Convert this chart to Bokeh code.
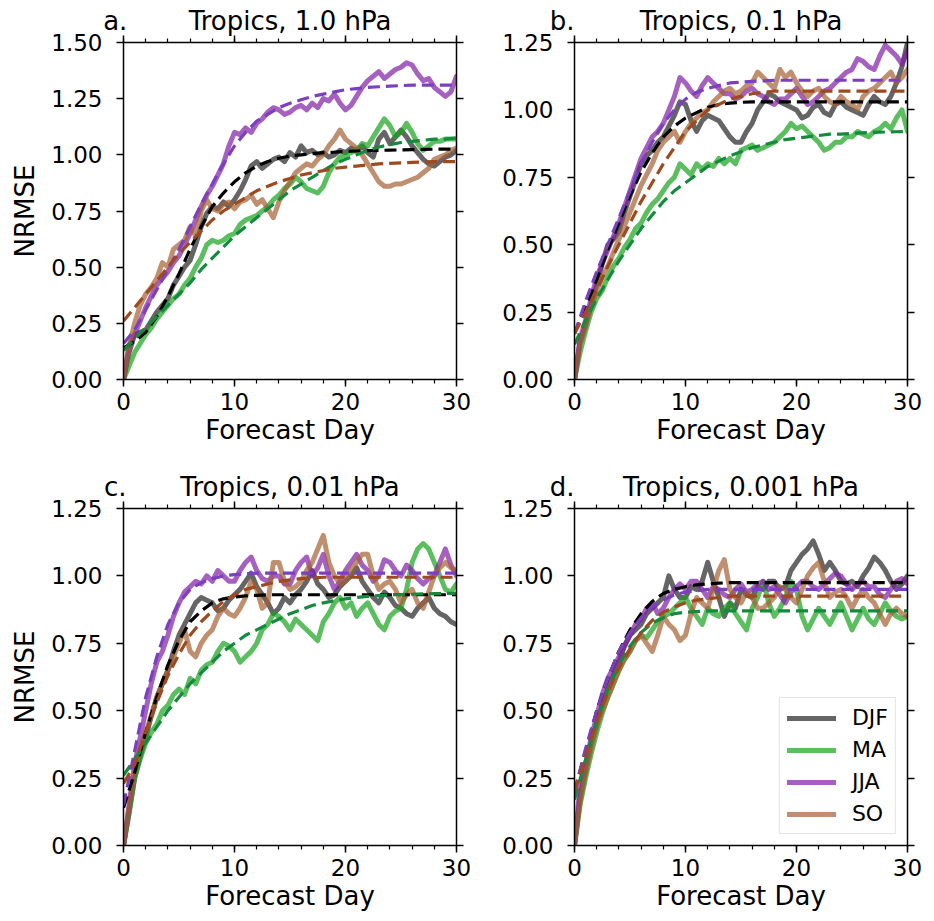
import math
from bokeh.plotting import figure
from bokeh.layouts import column, row
from bokeh.models import (LinearAxis, Range1d, Legend, LegendItem, FixedTicker,
                          SingleIntervalTicker, PrintfTickFormatter, CustomLabelingPolicy)
from bokeh.embed import file_html
from bokeh.resources import INLINE

FONT = "DejaVu Sans"

# ---------------- data ----------------
days = [i * 0.5 for i in range(61)]      # forecast day, half-day steps
fit_days = list(range(31))               # forecast day for fitted curves
seasons = ["DJF", "MA", "JJA", "SO"]
titles = ["Tropics, 1.0 hPa", "Tropics, 0.1 hPa", "Tropics, 0.01 hPa", "Tropics, 0.001 hPa"]
letters = ["a.", "b.", "c.", "d."]
y_max = [1.5, 1.25, 1.25, 1.25]

# panel a: 1.0 hPa
a_djf = [0, 0.12, 0.20, 0.21, 0.22, 0.26, 0.30, 0.33, 0.36, 0.42, 0.46, 0.50, 0.53, 0.60, 0.68, 0.74,
         0.77, 0.76, 0.79, 0.77, 0.80, 0.84, 0.89, 0.95, 0.97, 0.94, 0.96, 0.98, 0.99, 0.97, 1.01,
         0.99, 1.04, 1.01, 1.02, 1.00, 1.01, 0.99, 1.00, 1.02, 1.01, 1.03, 1.02, 1.04, 1.01, 0.99,
         1.07, 1.10, 1.05, 1.08, 1.11, 1.08, 1.04, 1.01, 0.98, 0.96, 0.95, 0.97, 0.99, 1.00, 1.02]
a_ma = [0, 0.06, 0.12, 0.16, 0.20, 0.23, 0.27, 0.30, 0.33, 0.36, 0.38, 0.42, 0.45, 0.50, 0.54, 0.60,
        0.62, 0.61, 0.62, 0.64, 0.65, 0.69, 0.71, 0.72, 0.73, 0.75, 0.77, 0.80, 0.82, 0.85, 0.87,
        0.90, 0.88, 0.85, 0.84, 0.83, 0.86, 0.92, 0.96, 0.99, 1.00, 1.01, 1.02, 1.05, 1.04, 1.08,
        1.12, 1.16, 1.13, 1.08, 1.10, 1.14, 1.10, 1.05, 1.02, 1.04, 1.06, 1.06, 1.07, 1.07, 1.07]
a_jja = [0, 0.15, 0.20, 0.26, 0.32, 0.37, 0.42, 0.45, 0.48, 0.52, 0.55, 0.60, 0.65, 0.71, 0.77, 0.82,
         0.86, 0.91, 0.96, 1.04, 1.10, 1.09, 1.12, 1.10, 1.14, 1.16, 1.19, 1.21, 1.20, 1.18, 1.19,
         1.21, 1.22, 1.20, 1.23, 1.21, 1.25, 1.24, 1.27, 1.23, 1.20, 1.22, 1.26, 1.30, 1.33, 1.35,
         1.37, 1.34, 1.36, 1.38, 1.39, 1.41, 1.40, 1.36, 1.33, 1.34, 1.30, 1.28, 1.26, 1.28, 1.35]
a_so = [0, 0.15, 0.25, 0.33, 0.38, 0.41, 0.45, 0.52, 0.50, 0.58, 0.60, 0.62, 0.68, 0.64, 0.75, 0.80,
        0.76, 0.75, 0.78, 0.79, 0.76, 0.79, 0.80, 0.82, 0.78, 0.80, 0.76, 0.72, 0.79, 0.84, 0.88,
        0.92, 0.94, 0.96, 0.95, 0.98, 1.00, 1.04, 1.07, 1.11, 1.07, 1.05, 1.03, 1.00, 0.96, 0.92,
        0.88, 0.86, 0.86, 0.87, 0.87, 0.88, 0.89, 0.90, 0.92, 0.94, 0.98, 0.99, 1.00, 1.02, 1.03]
a_djf_fit = [0.14, 0.17, 0.21, 0.28, 0.37, 0.47, 0.58, 0.68, 0.77, 0.83, 0.88, 0.92, 0.95, 0.97, 0.985, 0.995,
             1.00, 1.005, 1.01, 1.012, 1.015, 1.017, 1.019, 1.02, 1.021, 1.022, 1.023, 1.024, 1.025, 1.025, 1.025]
a_ma_fit = [0.13, 0.18, 0.23, 0.28, 0.33, 0.38, 0.43, 0.49, 0.54, 0.59, 0.64, 0.68, 0.72, 0.76, 0.80, 0.84,
            0.87, 0.90, 0.93, 0.96, 0.98, 1.00, 1.02, 1.035, 1.045, 1.055, 1.06, 1.065, 1.07, 1.07, 1.075]
a_jja_fit = [0.16, 0.22, 0.31, 0.40, 0.49, 0.58, 0.68, 0.78, 0.87, 0.96, 1.04, 1.10, 1.15, 1.18, 1.21, 1.23,
             1.245, 1.26, 1.27, 1.28, 1.29, 1.295, 1.30, 1.303, 1.306, 1.308, 1.31, 1.31, 1.31, 1.31, 1.31]
a_so_fit = [0.26, 0.32, 0.38, 0.44, 0.50, 0.56, 0.61, 0.66, 0.71, 0.75, 0.78, 0.81, 0.84, 0.86, 0.88, 0.895,
            0.91, 0.92, 0.93, 0.94, 0.945, 0.95, 0.955, 0.96, 0.962, 0.964, 0.966, 0.968, 0.97, 0.97, 0.97]

# panel b: 0.1 hPa
b_djf = [0, 0.14, 0.20, 0.28, 0.35, 0.43, 0.50, 0.52, 0.55, 0.62, 0.68, 0.74, 0.80, 0.83, 0.85, 0.88,
         0.90, 0.94, 0.98, 1.03, 1.02, 0.96, 0.92, 0.96, 0.98, 0.97, 0.96, 0.93, 0.90, 0.88, 0.88,
         0.92, 0.95, 1.00, 1.03, 1.06, 1.05, 1.03, 1.02, 1.01, 1.00, 0.97, 0.98, 1.01, 1.02, 0.99,
         0.98, 1.02, 1.03, 1.01, 1.00, 0.99, 0.98, 1.02, 1.05, 1.03, 1.02, 1.05, 1.10, 1.16, 1.25]
b_ma = [0, 0.10, 0.18, 0.25, 0.30, 0.33, 0.38, 0.42, 0.45, 0.49, 0.52, 0.56, 0.58, 0.62, 0.65, 0.67,
        0.70, 0.73, 0.75, 0.80, 0.78, 0.76, 0.80, 0.78, 0.80, 0.79, 0.82, 0.80, 0.82, 0.80, 0.85,
        0.86, 0.87, 0.85, 0.86, 0.87, 0.88, 0.90, 0.92, 0.95, 0.93, 0.94, 0.92, 0.90, 0.88, 0.85,
        0.86, 0.88, 0.88, 0.90, 0.90, 0.92, 0.91, 0.90, 0.92, 0.93, 0.95, 0.93, 0.97, 1.00, 0.92]
b_jja = [0, 0.15, 0.22, 0.30, 0.38, 0.43, 0.48, 0.53, 0.58, 0.64, 0.70, 0.76, 0.82, 0.86, 0.90, 0.92,
         0.95, 1.00, 1.05, 1.12, 1.10, 1.07, 1.05, 1.09, 1.12, 1.10, 1.08, 1.06, 1.06, 1.04, 1.05,
         1.07, 1.08, 1.06, 1.05, 1.03, 1.02, 1.04, 1.04, 1.06, 1.08, 1.05, 1.02, 1.03, 1.05, 1.07,
         1.08, 1.10, 1.12, 1.14, 1.15, 1.19, 1.18, 1.16, 1.15, 1.20, 1.24, 1.22, 1.20, 1.17, 1.22]
b_so = [0, 0.13, 0.20, 0.27, 0.33, 0.38, 0.42, 0.47, 0.52, 0.57, 0.62, 0.67, 0.72, 0.76, 0.80, 0.85,
        0.88, 0.90, 0.92, 0.88, 0.92, 0.95, 0.97, 0.99, 1.00, 1.03, 1.05, 1.07, 1.08, 1.06, 1.07,
        1.09, 1.10, 1.14, 1.12, 1.10, 1.08, 1.15, 1.12, 1.14, 1.10, 1.07, 1.05, 1.07, 1.08, 1.05,
        1.03, 1.02, 1.05, 1.03, 1.02, 1.00, 1.05, 1.07, 1.08, 1.10, 1.12, 1.14, 1.10, 1.12, 1.15]
b_djf_fit = [0.17, 0.27, 0.37, 0.48, 0.58, 0.68, 0.77, 0.84, 0.90, 0.94, 0.97, 0.99, 1.01, 1.02, 1.025, 1.028,
             1.03, 1.03, 1.03, 1.03, 1.03, 1.03, 1.03, 1.03, 1.03, 1.03, 1.03, 1.03, 1.03, 1.03, 1.03]
b_ma_fit = [0.13, 0.22, 0.30, 0.37, 0.44, 0.50, 0.56, 0.61, 0.66, 0.70, 0.73, 0.76, 0.79, 0.81, 0.83, 0.845,
            0.86, 0.87, 0.88, 0.89, 0.895, 0.90, 0.905, 0.91, 0.91, 0.913, 0.915, 0.917, 0.918, 0.919, 0.92]
b_jja_fit = [0.17, 0.29, 0.40, 0.50, 0.60, 0.70, 0.80, 0.88, 0.95, 1.00, 1.04, 1.065, 1.08, 1.09, 1.10, 1.103,
             1.106, 1.108, 1.11, 1.11, 1.11, 1.11, 1.11, 1.11, 1.11, 1.11, 1.11, 1.11, 1.11, 1.11, 1.11]
b_so_fit = [0.17, 0.25, 0.33, 0.42, 0.50, 0.58, 0.66, 0.73, 0.80, 0.86, 0.92, 0.96, 1.00, 1.02, 1.04, 1.05,
            1.06, 1.065, 1.07, 1.07, 1.07, 1.07, 1.07, 1.07, 1.07, 1.07, 1.07, 1.07, 1.07, 1.07, 1.07]

# panel c: 0.01 hPa
c_djf = [0, 0.12, 0.25, 0.33, 0.40, 0.48, 0.55, 0.60, 0.65, 0.72, 0.78, 0.82, 0.86, 0.90, 0.92, 0.91,
         0.90, 0.87, 0.88, 0.91, 0.93, 0.95, 0.98, 1.01, 0.96, 0.93, 0.90, 0.86, 0.88, 0.92, 0.90,
         0.93, 0.95, 0.98, 1.02, 0.97, 0.95, 0.92, 0.93, 0.96, 0.98, 1.00, 1.03, 0.98, 0.95, 0.92,
         0.90, 0.94, 0.92, 0.89, 0.88, 0.86, 0.85, 0.88, 0.90, 0.92, 0.88, 0.86, 0.85, 0.83, 0.82]
c_ma = [0, 0.12, 0.25, 0.32, 0.38, 0.42, 0.45, 0.50, 0.52, 0.56, 0.58, 0.56, 0.62, 0.60, 0.65, 0.67,
        0.68, 0.72, 0.75, 0.74, 0.72, 0.68, 0.70, 0.72, 0.75, 0.80, 0.82, 0.86, 0.85, 0.83, 0.80,
        0.84, 0.82, 0.80, 0.78, 0.76, 0.83, 0.86, 0.90, 0.92, 0.88, 0.90, 0.85, 0.88, 0.90, 0.86,
        0.82, 0.80, 0.85, 0.87, 0.88, 0.95, 1.05, 1.10, 1.12, 1.10, 1.05, 1.00, 0.95, 0.94, 0.97]
c_jja = [0, 0.15, 0.30, 0.40, 0.50, 0.60, 0.68, 0.72, 0.78, 0.85, 0.90, 0.94, 0.96, 0.98, 0.97, 1.00,
         0.98, 1.02, 1.00, 0.98, 0.98, 1.02, 1.05, 1.07, 1.02, 0.99, 0.98, 1.00, 1.00, 0.97, 0.97,
         1.02, 1.05, 1.07, 1.00, 1.03, 1.08, 1.00, 0.95, 0.98, 1.02, 1.05, 1.08, 1.04, 1.02, 0.98,
         1.00, 1.06, 1.05, 1.02, 1.00, 1.04, 1.02, 0.99, 0.97, 0.99, 1.00, 1.05, 1.10, 1.04, 1.00]
c_so = [0, 0.14, 0.28, 0.36, 0.42, 0.48, 0.55, 0.60, 0.65, 0.70, 0.75, 0.80, 0.72, 0.70, 0.75, 0.78,
        0.80, 0.85, 0.88, 0.86, 0.85, 0.88, 0.92, 0.98, 0.95, 0.88, 0.90, 1.05, 1.05, 0.98, 0.95,
        0.96, 0.98, 1.02, 1.05, 1.10, 1.15, 1.05, 1.00, 0.97, 0.98, 1.02, 1.05, 1.08, 1.08, 1.00,
        0.95, 0.97, 0.98, 0.95, 0.90, 0.93, 0.95, 0.90, 0.88, 0.94, 1.00, 1.03, 1.05, 1.03, 1.02]
c_djf_fit = [0.14, 0.27, 0.42, 0.55, 0.67, 0.76, 0.83, 0.87, 0.90, 0.915, 0.922, 0.926, 0.928, 0.93, 0.93, 0.93,
             0.93, 0.93, 0.93, 0.93, 0.93, 0.93, 0.93, 0.93, 0.93, 0.93, 0.93, 0.93, 0.93, 0.93, 0.93]
c_ma_fit = [0.26, 0.32, 0.38, 0.44, 0.50, 0.55, 0.60, 0.64, 0.68, 0.72, 0.75, 0.78, 0.80, 0.82, 0.84, 0.86,
            0.875, 0.89, 0.90, 0.908, 0.915, 0.92, 0.924, 0.927, 0.93, 0.931, 0.932, 0.933, 0.934, 0.935, 0.935]
c_jja_fit = [0.15, 0.35, 0.55, 0.70, 0.82, 0.90, 0.95, 0.975, 0.99, 1.00, 1.005, 1.008, 1.01, 1.01, 1.01, 1.01,
             1.01, 1.01, 1.01, 1.01, 1.01, 1.01, 1.01, 1.01, 1.01, 1.01, 1.01, 1.01, 1.01, 1.01, 1.01]
c_so_fit = [0.23, 0.30, 0.42, 0.53, 0.63, 0.71, 0.78, 0.83, 0.87, 0.905, 0.93, 0.95, 0.96, 0.97, 0.98, 0.985,
            0.99, 0.992, 0.995, 0.995, 0.995, 0.995, 0.995, 0.995, 0.995, 0.995, 0.995, 0.995, 0.995, 0.995, 0.995]

# panel d: 0.001 hPa
d_djf = [0, 0.18, 0.28, 0.38, 0.45, 0.52, 0.58, 0.63, 0.68, 0.74, 0.78, 0.80, 0.82, 0.86, 0.88, 0.90,
         0.92, 1.00, 0.95, 0.92, 0.92, 0.96, 0.95, 0.98, 1.05, 0.98, 0.92, 0.85, 0.90, 0.88, 0.95,
         0.93, 0.92, 0.96, 0.95, 0.98, 0.98, 0.95, 0.96, 1.02, 1.05, 1.08, 1.10, 1.13, 1.08, 1.02,
         1.05, 1.02, 0.98, 0.97, 0.98, 0.96, 1.00, 1.03, 1.07, 1.05, 1.02, 0.98, 0.95, 0.97, 1.00]
d_ma = [0, 0.15, 0.25, 0.34, 0.42, 0.49, 0.55, 0.60, 0.65, 0.69, 0.72, 0.76, 0.78, 0.77, 0.80, 0.83,
        0.85, 0.86, 0.88, 0.90, 0.92, 0.88, 0.85, 0.82, 0.88, 0.86, 0.85, 0.88, 0.90, 0.86, 0.83,
        0.80, 0.88, 0.92, 0.98, 0.90, 0.85, 0.88, 0.92, 0.98, 0.95, 0.85, 0.80, 0.84, 0.88, 0.85,
        0.82, 0.86, 0.90, 0.85, 0.80, 0.84, 0.88, 0.84, 0.82, 0.86, 0.90, 0.87, 0.85, 0.84, 0.85]
d_jja = [0, 0.22, 0.30, 0.40, 0.48, 0.56, 0.62, 0.66, 0.70, 0.74, 0.78, 0.82, 0.84, 0.88, 0.90, 0.86,
         0.88, 0.92, 0.95, 0.97, 0.95, 0.98, 0.98, 0.95, 0.92, 0.96, 0.95, 0.93, 0.92, 0.95, 0.97,
         0.94, 0.95, 0.97, 0.98, 0.95, 0.96, 0.93, 0.90, 0.94, 0.96, 0.98, 0.98, 0.96, 0.95, 0.97,
         0.99, 1.01, 1.00, 0.97, 0.95, 0.97, 0.98, 0.96, 0.96, 0.93, 0.92, 0.95, 0.98, 0.99, 0.97]
d_so = [0, 0.16, 0.27, 0.36, 0.44, 0.50, 0.55, 0.60, 0.65, 0.69, 0.72, 0.76, 0.78, 0.75, 0.72, 0.78,
        0.85, 0.82, 0.80, 0.76, 0.78, 0.86, 0.92, 0.90, 0.88, 0.95, 1.02, 1.06, 0.95, 0.92, 0.90,
        0.94, 0.92, 0.88, 0.88, 0.90, 0.92, 0.96, 0.95, 0.92, 0.90, 0.95, 1.00, 1.03, 1.05, 0.98,
        0.92, 0.94, 0.95, 0.92, 0.88, 0.92, 0.95, 0.92, 0.90, 0.86, 0.82, 0.86, 0.88, 0.86, 0.85]
d_djf_fit = [0.20, 0.35, 0.50, 0.62, 0.72, 0.80, 0.86, 0.905, 0.935, 0.95, 0.96, 0.967, 0.97, 0.973, 0.975, 0.975,
             0.975, 0.975, 0.975, 0.975, 0.975, 0.975, 0.975, 0.975, 0.975, 0.975, 0.975, 0.975, 0.975, 0.975, 0.975]
d_ma_fit = [0.17, 0.32, 0.46, 0.58, 0.67, 0.74, 0.79, 0.825, 0.845, 0.86, 0.865, 0.868, 0.87, 0.87, 0.87, 0.87,
            0.87, 0.87, 0.87, 0.87, 0.87, 0.87, 0.87, 0.87, 0.87, 0.87, 0.87, 0.87, 0.87, 0.87, 0.87]
d_jja_fit = [0.20, 0.36, 0.50, 0.62, 0.72, 0.79, 0.845, 0.885, 0.91, 0.93, 0.94, 0.945, 0.95, 0.95, 0.95, 0.95,
             0.95, 0.95, 0.95, 0.95, 0.95, 0.95, 0.95, 0.95, 0.95, 0.95, 0.95, 0.95, 0.95, 0.95, 0.95]
d_so_fit = [0.20, 0.33, 0.46, 0.57, 0.66, 0.73, 0.79, 0.835, 0.865, 0.885, 0.90, 0.91, 0.915, 0.92, 0.925, 0.925,
            0.925, 0.925, 0.925, 0.925, 0.925, 0.925, 0.925, 0.925, 0.925, 0.925, 0.925, 0.925, 0.925, 0.925, 0.925]

solid_data = [[a_djf, a_ma, a_jja, a_so], [b_djf, b_ma, b_jja, b_so],
              [c_djf, c_ma, c_jja, c_so], [d_djf, d_ma, d_jja, d_so]]
fit_data = [[a_djf_fit, a_ma_fit, a_jja_fit, a_so_fit], [b_djf_fit, b_ma_fit, b_jja_fit, b_so_fit],
            [c_djf_fit, c_ma_fit, c_jja_fit, c_so_fit], [d_djf_fit, d_ma_fit, d_jja_fit, d_so_fit]]

# ---------------- style ----------------
solid_colors = ["#242424", "#16a41c", "#801ca5", "#a56033"]
fit_colors = ["#000000", "#138a3c", "#7b3fbf", "#9e4a1f"]

# (width, height, left, right, top, bottom)
geoms = [(471, 463, 123, 15, 42, 84), (460, 463, 103, 24, 42, 84),
         (471, 457, 123, 15, 45, 75), (460, 457, 103, 24, 45, 75)]
letter_pad = [2, 3, 2, 3]        # non-breaking spaces that push the letter left of the frame
TITLE_POS = 15.0

NO_LABELS = CustomLabelingPolicy(code="return new Set()")


def style_axis(ax, show_labels, minor):
    ax.axis_line_width = 1.5
    ax.axis_line_color = "black"
    ax.major_tick_in = 0
    ax.major_tick_out = 7
    ax.major_tick_line_width = 1.5
    ax.major_tick_line_color = "black"
    ax.minor_tick_in = 0
    ax.minor_tick_out = 4 if minor else 0
    ax.minor_tick_line_width = 1.2
    ax.minor_tick_line_color = "black" if minor else None
    ax.major_label_text_font = FONT
    ax.major_label_text_color = "black"
    if show_labels:
        ax.major_label_text_font_size = "23px"
    else:
        ax.major_label_text_font_size = "0px"
        ax.major_label_standoff = 0
        ax.major_label_policy = NO_LABELS


figs = []
for k in range(4):
    W, H, bl, br, bt, bb = geoms[k]
    ymax = y_max[k]
    p = figure(width=W, height=H, x_range=Range1d(0, 30), y_range=Range1d(0, ymax),
               output_backend="svg", toolbar_location=None,
               min_border_left=bl, min_border_right=br, min_border_top=bt, min_border_bottom=bb,
               outline_line_color=None, background_fill_color="white", border_fill_color="white")
    p.xgrid.visible = False
    p.ygrid.visible = False

    xa = p.xaxis[0]
    xa.ticker = SingleIntervalTicker(interval=10, num_minor_ticks=5)
    style_axis(xa, True, True)
    xa.major_label_standoff = 6
    xa.axis_label = "Forecast Day"
    xa.axis_label_text_font = FONT
    xa.axis_label_text_font_size = "26px"
    xa.axis_label_text_font_style = "normal"
    xa.axis_label_text_color = "black"
    xa.axis_label_standoff = 2

    ya = p.yaxis[0]
    ya.ticker = SingleIntervalTicker(interval=0.25, num_minor_ticks=0)
    ya.formatter = PrintfTickFormatter(format="%.2f")
    style_axis(ya, True, False)
    ya.major_label_standoff = 14
    if k in (0, 2):
        ya.axis_label = "NRMSE"
        ya.axis_label_text_font = FONT
        ya.axis_label_text_font_size = "26px"
        ya.axis_label_text_font_style = "normal"
        ya.axis_label_text_color = "black"
        ya.axis_label_standoff = 8

    top = LinearAxis(ticker=SingleIntervalTicker(interval=10, num_minor_ticks=5))
    style_axis(top, False, True)
    p.add_layout(top, "above")
    right = LinearAxis(ticker=SingleIntervalTicker(interval=0.25, num_minor_ticks=0))
    style_axis(right, False, False)
    p.add_layout(right, "right")

    # panel letter and title, drawn as the labels of a bare top axis
    letter_text = letters[k] + "\u00a0" * letter_pad[k]
    tax = LinearAxis(ticker=FixedTicker(ticks=[0, TITLE_POS], minor_ticks=[]),
                     major_label_overrides={0: letter_text, TITLE_POS: titles[k]})
    tax.axis_line_color = None
    tax.major_tick_line_color = None
    tax.minor_tick_line_color = None
    tax.major_tick_in = 0
    tax.major_tick_out = 0
    tax.minor_tick_in = 0
    tax.minor_tick_out = 0
    tax.major_label_text_font = FONT
    tax.major_label_text_font_size = "26px"
    tax.major_label_text_color = "black"
    tax.major_label_standoff = 0
    p.add_layout(tax, "above")

    solids = []
    for s in range(4):
        r = p.line(days, solid_data[k][s], line_color=solid_colors[s], line_alpha=0.7,
                   line_width=5, line_join="round", line_cap="round")
        solids.append(r)
    for s in range(4):
        p.line(fit_days, fit_data[k][s], line_color=fit_colors[s], line_width=3.2,
               line_dash="12 6")

    if k == 3:
        items = [LegendItem(label=seasons[s], renderers=[solids[s]]) for s in range(4)]
        leg = Legend(items=items, location="bottom_right", label_text_font=FONT,
                     label_text_font_size="22px", label_text_color="black",
                     glyph_width=49, glyph_height=22, label_height=22, label_standoff=16,
                     spacing=7, padding=7, margin=11,
                     border_line_color="#cccccc", border_line_width=1.5,
                     background_fill_color="white", background_fill_alpha=0.8)
        p.add_layout(leg)
    figs.append(p)

layout = column(row(figs[0], figs[1]), row(figs[2], figs[3]))
open("out.html", "w").write(file_html(layout, INLINE))
